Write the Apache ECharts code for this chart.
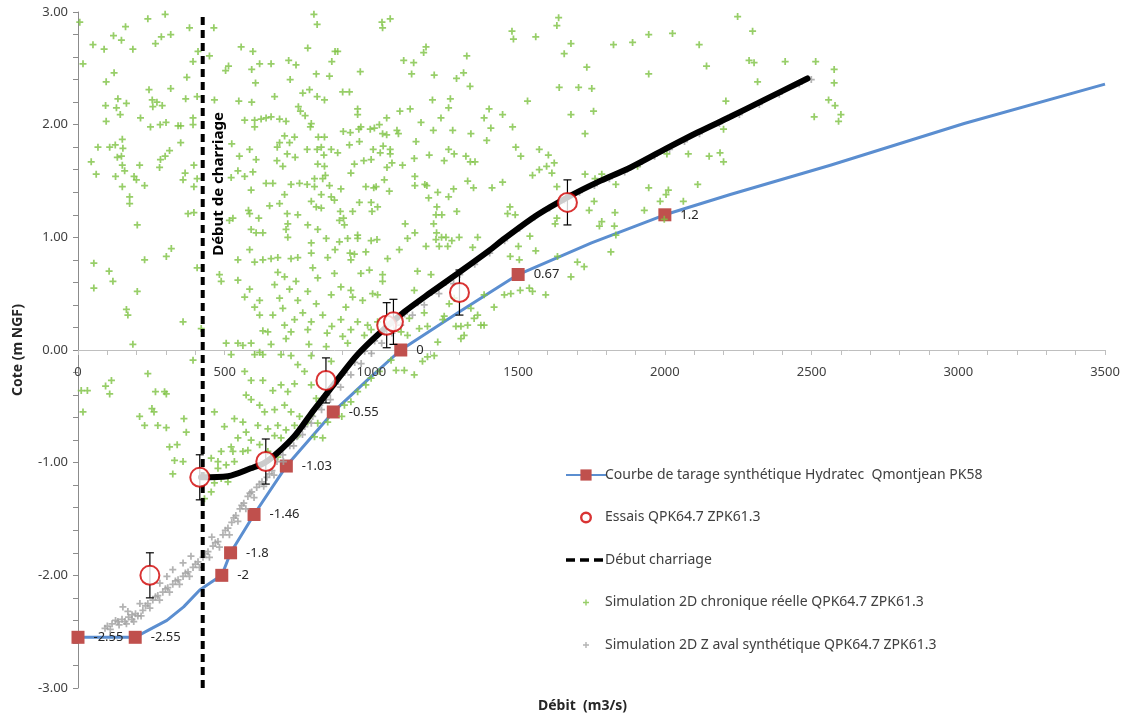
<!DOCTYPE html>
<html><head><meta charset="utf-8">
<script src="https://cdn.jsdelivr.net/npm/echarts@6/dist/echarts.min.js"></script>
<style>html,body{margin:0;padding:0;background:#fff}#c{width:1127px;height:724px}</style>
</head><body><div id="c"></div>
<script>
// ---- Data ----
const xTicks = [0, 500, 1000, 1500, 2000, 2500, 3000, 3500];
const yTicks = [-3, -2, -1, 0, 1, 2, 3];

// Courbe de tarage synthétique (blue line), marked points
const tarageQ = [0, 195, 490, 520, 600, 710, 870, 1100, 1500, 2000];
const tarageZ = [-2.55, -2.55, -2.0, -1.8, -1.46, -1.03, -0.55, 0, 0.67, 1.2];
const tarageLabels = ['-2.55', '-2.55', '-2', '-1.8', '-1.46', '-1.03', '-0.55', '0', '0.67', '1.2'];
// intermediate curve points (no marker)
const tarageCurveQ = [245, 303, 360, 415, 455, 985, 1300, 1750, 2223, 2564, 3020, 3500];
const tarageCurveZ = [-2.48, -2.40, -2.28, -2.13, -2.06, -0.27, 0.34, 0.95, 1.38, 1.64, 2.01, 2.36];

// Essais
const essaisQ = [245, 415, 640, 845, 1052, 1075, 1300, 1668];
const essaisZ = [-2.00, -1.13, -0.99, -0.27, 0.22, 0.25, 0.51, 1.31];
const essaisErr = [0.2, 0.2, 0.2, 0.2, 0.2, 0.2, 0.2, 0.2];

// Début charriage
const charriageQ = 425;
const charriageZ = [-3, 3];

// Thick black curve
const blackQ = [419, 511, 589, 637, 681, 739, 793, 841, 885, 953, 1032, 1113, 1202, 1294, 1400, 1454, 1566, 1679, 1771, 1883, 1999, 2111, 2223, 2339, 2486];
const blackZ = [-1.13, -1.12, -1.05, -1.00, -0.91, -0.76, -0.57, -0.41, -0.26, -0.04, 0.16, 0.34, 0.51, 0.68, 0.88, 0.99, 1.20, 1.37, 1.49, 1.62, 1.78, 1.93, 2.07, 2.22, 2.41];

// Simulation 2D Z aval synthétique (grey crosses)
const zAvalPts = [
[92,-2.47],[116,-2.43],[136,-2.41],[160,-2.41],[184,-2.39],[204,-2.36],[221,-2.31],[238,-2.25],[255,-2.22],[272,-2.18],
[289,-2.15],[306,-2.11],[323,-2.08],[341,-2.04],[358,-2.01],[375,-1.97],[392,-1.93],[409,-1.88],[426,-1.84],[443,-1.79],
[460,-1.74],[477,-1.70],[494,-1.64],[511,-1.58],[524,-1.53],[538,-1.47],[552,-1.41],[565,-1.36],[579,-1.30],[592,-1.26],
[609,-1.22],[627,-1.17],[644,-1.13],[661,-1.07],[678,-0.99],[698,-0.93],[722,-0.85],[746,-0.77],[773,-0.68],[800,-0.59],
[824,-0.49],[851,-0.40],[878,-0.30],[909,-0.20],[943,-0.11],[977,-0.01],[1011,0.08],[1045,0.16],[1079,0.24],[1113,0.32],
[1158,0.42],[1205,0.51],[1253,0.60],[1301,0.67],[1352,0.76],[1403,0.86],[1454,0.97],[1505,1.08],[1556,1.18],[1607,1.26],
[1658,1.33],[1709,1.40],[1760,1.46],[1811,1.52],[1863,1.58],[1914,1.65],[1965,1.72],[2016,1.78],[2067,1.85],[2118,1.92],
[2186,2.01],[2254,2.09],[2322,2.18],[2390,2.27],[2458,2.36],[2499,2.40],
[100,-2.45],[128,-2.40],[150,-2.39],[172,-2.37],[196,-2.34],[230,-2.27],[264,-2.19],[298,-2.12],[332,-2.05],[366,-1.98],
[400,-1.90],[434,-1.81],[468,-1.71],[502,-1.60],[531,-1.49],[558,-1.38],[586,-1.27],[618,-1.19],[652,-1.10],
[110,-2.48],[140,-2.44],[165,-2.43],[190,-2.41],[215,-2.36],[245,-2.29],[278,-2.22],[312,-2.15],[346,-2.08],[380,-2.01],
[414,-1.93],[448,-1.84],[482,-1.75],[516,-1.64],[545,-1.52],[572,-1.41],[600,-1.31],[633,-1.21],[668,-1.11],[700,-0.99],
[735,-0.85],[765,-0.75],[795,-0.65],[830,-0.53],[860,-0.44],[895,-0.33],[930,-0.22],[965,-0.12],[1000,-0.03],[1035,0.06],
[1070,0.15],[1100,0.22],[1140,0.31],[1180,0.40],[1230,0.50],[1280,0.59],
[153,-2.28],[170,-2.32],[184,-2.35],[211,-2.25],[279,-2.07],[303,-2.01],[323,-1.95],[358,-1.89],[385,-1.83],[456,-1.66]
];

// Simulation 2D chronique réelle (green crosses)
const chroniquePts = [
[6,2.91],[17,2.54],[51,2.71],[89,2.67],[121,2.79],[148,2.75],[162,2.87],[187,2.67],[238,2.94],[297,2.98],
[316,2.80],[284,2.78],[264,2.72],[380,2.86],[409,2.65],[392,2.56],[123,2.46],[96,2.38],[371,2.42],[242,2.31],
[316,2.32],[136,2.23],[165,2.19],[94,2.17],[131,2.15],[253,2.22],[269,2.20],[255,2.16],[287,2.17],[144,2.09],
[213,2.06],[96,2.03],[247,1.98],[280,2.00],[300,2.02],[341,1.99],[350,1.99],[392,2.06],[406,2.25],[367,2.23],
[392,2.00],[68,1.80],[108,1.80],[127,1.82],[151,1.87],[153,1.79],[134,1.71],[148,1.72],[45,1.67],[151,1.64],
[210,1.64],[278,1.62],[297,1.72],[281,1.69],[312,1.77],[350,1.84],[62,1.56],[128,1.54],[191,1.54],[199,1.51],
[159,1.59],[227,1.46],[151,1.45],[365,1.57],[358,1.51],[395,1.45],[176,1.36],[176,1.30],[395,1.64],[406,1.52],
[375,1.21],[395,1.22],[202,1.11],[318,0.90],[301,0.83],[227,0.80],[54,0.77],
[463,2.86],[448,2.61],[556,2.69],[596,2.65],[619,2.54],[658,2.54],[592,2.49],[503,2.48],[513,2.52],[605,2.37],
[465,2.22],[548,2.21],[592,2.20],[670,2.25],[723,2.40],[718,2.57],[743,2.53],[783,2.68],[804,2.98],[815,2.89],
[812,2.45],[857,2.43],[865,2.56],[876,2.65],[766,2.28],[789,2.31],[815,2.25],[840,2.22],[751,2.16],[758,2.12],
[774,2.08],[792,1.98],[795,2.01],[819,1.89],[840,1.89],[704,1.90],[738,1.89],[721,1.84],[687,1.84],[568,2.04],
[602,2.04],[624,2.05],[641,2.06],[658,2.07],[687,2.05],[709,2.03],[602,1.98],[524,1.83],[550,1.72],[585,1.78],
[607,1.69],[679,1.80],[713,1.74],[740,1.71],[678,1.68],[698,1.63],[781,1.78],[815,1.78],[838,1.73],[829,1.80],
[863,1.78],[817,1.65],[840,1.63],[843,1.55],[834,1.52],[806,1.52],[857,1.46],[596,1.58],[568,1.54],[522,1.53],
[545,1.59],[641,1.48],[664,1.48],[726,1.47],[755,1.48],[781,1.47],[806,1.45],[829,1.38],[863,1.36],[874,1.33],
[704,1.38],[590,1.42],[653,1.28],[687,1.30],[581,1.24],[585,1.21],[616,1.17],[528,1.17],[516,1.15],[713,1.21],
[749,1.20],[795,1.32],[812,1.27],[829,1.26],[715,1.12],[783,1.11],[817,1.07],[846,0.99],[715,1.00],[709,1.07],
[795,0.95],[590,1.07],[607,1.04],[630,1.04],[585,0.89],[658,0.81],[681,0.82],[726,0.81],[749,0.82],[795,0.86],
[851,0.82],[876,0.89],[545,0.80],[602,0.78],[630,0.80],
[1036,2.91],[1064,2.94],[1038,2.86],[885,2.65],[962,2.47],[902,2.29],[925,2.29],[1186,2.69],[1178,2.64],[1110,2.57],
[1144,2.55],[1137,2.45],[1214,2.44],[1314,2.46],[1290,2.41],[1325,2.61],[1336,2.34],[1208,2.22],[1269,2.23],[1263,2.15],
[1132,2.14],[1097,2.12],[953,2.14],[953,2.09],[1052,2.06],[1237,2.06],[1169,2.02],[904,1.94],[928,1.93],[964,1.98],
[957,1.96],[996,1.96],[1010,1.97],[1027,2.00],[1038,1.92],[1052,1.91],[1087,1.95],[1092,1.92],[1152,1.85],[1211,1.95],
[1277,1.95],[1339,1.92],[1393,1.86],[1384,2.06],[1407,1.97],[1401,2.14],[1447,2.09],[1481,1.98],[925,1.82],[959,1.85],
[885,1.75],[942,1.65],[974,1.68],[999,1.69],[1006,1.78],[1030,1.75],[1040,1.81],[1064,1.78],[1064,1.74],[1070,1.66],
[1106,1.64],[1053,1.62],[930,1.57],[1146,1.70],[1197,1.73],[1248,1.68],[1263,1.78],[1282,1.74],[1322,1.72],[1337,1.67],
[1353,1.67],[1148,1.54],[1148,1.46],[1182,1.47],[1189,1.46],[1044,1.51],[981,1.45],[1008,1.44],[1016,1.45],[1061,1.41],
[896,1.43],[1226,1.40],[1263,1.36],[1280,1.43],[1195,1.35],[1328,1.50],[1348,1.44],[1411,1.44],[1447,1.49],[1492,1.80],
[1509,1.72],[1572,1.78],[1603,1.73],[1572,1.60],[1597,1.63],[1615,1.57],[1623,1.66],[1549,1.55],[1632,1.45],[1728,1.56],
[1762,1.52],[1759,1.32],[1742,1.24],[1680,2.09],[1757,2.12],[1728,1.92],[1734,2.51],[1640,2.33],[1706,2.33],[1751,2.32],
[1532,2.21],[1479,2.83],[1484,2.76],[1560,2.78],[1680,2.72],[1657,2.63],[1638,2.95],[1632,2.88],
[959,1.31],[999,1.31],[1002,1.23],[1021,1.27],[894,1.23],[905,1.17],[891,1.15],[908,1.11],[936,1.23],[1223,1.27],
[1220,1.20],[1240,1.20],[1291,1.23],[1212,1.12],[1115,1.12],[1148,1.04],[1123,0.99],[1222,1.04],[1239,1.00],[1254,1.00],
[1274,0.97],[1299,1.00],[1220,0.98],[1186,0.92],[1362,1.00],[1345,0.91],[1231,0.92],[1260,0.92],[1095,0.89],[1055,0.81],
[999,0.97],[1019,0.98],[953,1.02],[953,0.99],[919,0.99],[891,0.96],[927,0.86],[942,0.85],[981,0.87],[930,0.80],
[1472,1.27],[1464,1.21],[1490,1.20],[1540,1.01],[1501,0.92],[1560,0.88],[1473,0.83],[1504,0.80],[1634,0.83],[1632,1.17],
[1626,1.12],[1702,0.78],
[2248,2.96],[2299,2.83],[1825,2.71],[1890,2.73],[1945,2.80],[2026,2.81],[2117,2.71],[1945,2.45],[2142,2.52],[2287,2.57],
[2304,2.55],[2410,2.56],[2514,2.56],[2577,2.49],[2577,2.37],[2316,2.38],[2208,2.21],[2558,2.22],[2580,2.17],[2600,2.09],
[2509,2.07],[2592,2.03],[2200,1.96],[2007,1.74],[2080,1.74],[2151,1.72],[2188,1.75],[2200,1.67],[1907,1.63],[1785,1.56],
[1833,1.47],[1945,1.44],[2012,1.42],[2004,1.38],[1984,1.32],[2063,1.32],[2112,1.47],[1930,1.24],[1830,1.22],[1785,1.14],
[1777,1.10],[1828,1.10],[1833,1.02],[1998,1.16],[1816,0.87],
[106,0.70],[54,0.55],[119,0.61],[202,0.52],[165,0.36],[170,0.31],[358,0.25],[187,0.05],[420,0.19],[406,0.73],
[11,-0.36],[32,-0.36],[94,-0.32],[114,-0.27],[108,-0.39],[238,-0.21],[264,-0.37],[295,-0.37],[301,-0.39],[17,-0.55],
[210,-0.59],[252,-0.52],[259,-0.55],[227,-0.67],[272,-0.67],[301,-0.69],[361,-0.61],[369,-0.73],[338,-0.84],[312,-0.86],
[329,-0.98],[323,-1.10],[358,-0.99],[392,-0.09],
[482,0.67],[488,0.61],[545,0.62],[585,0.54],[568,0.47],[619,0.44],[602,0.38],[619,0.31],[630,0.17],[647,0.16],
[545,0.06],[562,0.04],[505,0.06],[590,0.06],[619,-0.02],[658,0.05],[687,0.46],[698,0.37],[704,0.22],[726,0.16],
[709,0.10],[738,0.27],[749,0.44],[766,0.33],[783,0.52],[812,0.41],[834,0.31],[863,0.49],[849,0.15],[865,0.21],
[795,0.25],[800,0.73],[704,0.65],[743,0.61],[721,0.54],[817,0.64],[670,0.58],[664,0.31],[681,0.69],[874,0.68],
[787,0.05],[846,0.03],[783,0.18],
[522,-0.04],[602,-0.04],[630,-0.04],[692,-0.04],[726,-0.05],[749,-0.13],[795,-0.05],[863,-0.10],[568,-0.19],[590,-0.27],
[630,-0.27],[664,-0.36],[692,-0.31],[715,-0.37],[738,-0.30],[772,-0.19],[795,-0.31],[812,-0.43],[573,-0.40],[590,-0.44],
[619,-0.49],[636,-0.55],[670,-0.53],[704,-0.49],[726,-0.55],[755,-0.59],[795,-0.58],[817,-0.65],[851,-0.64],[465,-0.55],
[499,-0.68],[533,-0.61],[562,-0.64],[573,-0.73],[613,-0.67],[647,-0.70],[681,-0.67],[738,-0.67],[783,-0.64],[545,-0.78],
[590,-0.80],[522,-0.86],[488,-0.90],[528,-0.90],[454,-0.96],[477,-0.99],[505,-1.02],[533,-0.99],[562,-0.90],[579,-0.89],
[619,-0.84],[465,-1.18],[454,-1.26],[431,-1.32],[488,-1.14],[511,-1.17],[477,-1.05],[437,-1.10],[692,-0.78],[709,-0.71],
[670,-0.76],[647,-0.90],[681,-0.95],[726,-0.80],[749,-0.76],[806,-0.77],[834,-0.78],
[896,0.56],[930,0.53],[964,0.68],[1038,0.67],[1038,0.61],[993,0.71],[1157,0.70],[936,0.47],[970,0.44],[1004,0.50],
[1021,0.49],[913,0.38],[896,0.27],[930,0.18],[987,0.22],[999,0.18],[1021,0.25],[953,0.25],[976,0.13],[902,0.12],
[919,0.06],[1146,0.53],[1163,0.19],[1191,0.21],[1123,0.13],[1101,0.16],[1129,0.28],[1180,0.33],[1248,0.30],[1265,0.41],
[1243,0.27],[1226,0.07],[1214,-0.05],[1191,-0.06],[1174,-0.10],[1112,-0.18],[1084,-0.18],[1067,-0.09],[1027,-0.19],[999,-0.25],
[981,-0.31],[953,-0.37],[930,-0.46],[908,-0.49],[899,-0.59],[1203,0.67],[1282,0.46],[1305,0.21],[1288,0.21],[1328,0.22],
[1350,0.28],[1362,0.31],[1373,0.22],[1418,0.38],[1384,0.49],[1453,0.49],[1475,0.50],[1507,0.53],[1538,0.55],[1549,0.52],
[1594,0.49],[1680,0.65],[1725,0.74],[1384,0.22],[1316,0.13],[1305,0.10],[1339,0.37],[1146,-0.22]
];

// ---- Build ----
const NAME_TARAGE = 'Courbe de tarage synthétique Hydratec  Qmontjean PK58';
const NAME_ESSAIS = 'Essais QPK64.7 ZPK61.3';
const NAME_CHARR = 'Début charriage';
const NAME_CHRON = 'Simulation 2D chronique réelle QPK64.7 ZPK61.3';
const NAME_ZAVAL = 'Simulation 2D Z aval synthétique QPK64.7 ZPK61.3';

const tarageData = [];
tarageQ.forEach((q, i) => tarageData.push({ value: [q, tarageZ[i]], lab: tarageLabels[i] }));
tarageCurveQ.forEach((q, i) => tarageData.push({ value: [q, tarageCurveZ[i]], symbol: 'none', label: { show: false } }));
tarageData.sort((a, b) => a.value[0] - b.value[0]);

const plusPath = 'path://M3,0H5V3H8V5H5V8H3V5H0V3H3Z';
const plusLegend = 'path://M0,0M40,14M19.3,4H20.7V6.3H23V7.7H20.7V10H19.3V7.7H17V6.3H19.3Z';
const dashLegend = 'path://M0,0M40,14M0,5.2H9V8.8H0Z M14,5.2H23V8.8H14Z M28,5.2H37V8.8H28Z';
const ringLegend = 'path://M0,0M40,14M14,7A6,6 0 1,0 26,7A6,6 0 1,0 14,7Z M16.4,7A3.6,3.6 0 1,1 23.6,7A3.6,3.6 0 1,1 16.4,7Z';
const FONT = 'Noto Sans';

const option = {
  animation: false,
  backgroundColor: '#ffffff',
  textStyle: { fontFamily: FONT },
  grid: { left: 78, right: 22, top: 12, bottom: 36, containLabel: false },
  xAxis: {
    type: 'value', min: 0, max: 3500, interval: 500,
    axisLine: { onZero: true, lineStyle: { color: '#bfbfbf', width: 1 } },
    axisTick: { show: true, length: 5, lineStyle: { color: '#bfbfbf' } },
    minorTick: { show: true, splitNumber: 5, length: 5, lineStyle: { color: '#bfbfbf' } },
    splitLine: { show: false },
    axisLabel: { show: false }
  },
  yAxis: {
    type: 'value', min: -3, max: 3, interval: 1,
    name: 'Cote (m NGF)', nameLocation: 'middle', nameGap: 53,
    nameTextStyle: { color: '#262626', fontSize: 14, fontWeight: 'bold', fontFamily: FONT },
    axisLine: { onZero: false, lineStyle: { color: '#8c8c8c', width: 1 } },
    axisTick: { show: true, length: 5, lineStyle: { color: '#8c8c8c' } },
    minorTick: { show: true, splitNumber: 5, length: 5, lineStyle: { color: '#8c8c8c' } },
    splitLine: { show: false },
    axisLabel: { color: '#404040', fontSize: 13, margin: 10, fontFamily: FONT,
      formatter: v => (yTicks.indexOf(v) >= 0 ? v.toFixed(2) : '') }
  },
  legend: {
    orient: 'vertical', left: 560, top: 463, itemGap: 28.5, itemWidth: 40, itemHeight: 14,
    textStyle: { color: '#404040', fontSize: 14, fontFamily: FONT, padding: [0, 0, 0, -6] },
    data: [
      { name: NAME_TARAGE },
      { name: NAME_ESSAIS, icon: ringLegend, itemStyle: { color: '#d00000', borderWidth: 0 } },
      { name: NAME_CHARR, icon: dashLegend, itemStyle: { color: '#000000' } },
      { name: NAME_CHRON, icon: plusLegend },
      { name: NAME_ZAVAL, icon: plusLegend }
    ]
  },
  graphic: [
    { type: 'text', left: 538, top: 699,
      style: { text: 'Débit  (m3/s)', font: 'bold 14px "Noto Sans"', fill: '#262626' }, z: 100 },
    { type: 'text', x: 219, y: 184, rotation: Math.PI / 2,
      style: { text: 'Début de charriage', font: 'bold 15px "Noto Sans"', fill: '#000', align: 'center', verticalAlign: 'middle' }, z: 100 }
  ],
  series: [
    {
      name: NAME_TARAGE, type: 'line', z: 2,
      data: tarageData,
      symbol: 'rect', symbolSize: 13, showAllSymbol: true,
      itemStyle: { color: '#c0504d' },
      lineStyle: { color: '#5b8ed0', width: 3, join: 'round' },
      label: { show: true, position: 'right', distance: 9, color: '#262626', fontSize: 13, fontFamily: FONT,
        formatter: p => p.data.lab || '' },
      emphasis: { disabled: true }
    },
    {
      name: NAME_CHRON, type: 'scatter', z: 3,
      data: chroniquePts, symbol: plusPath, symbolSize: 7,
      itemStyle: { color: '#7dc242' },
      emphasis: { disabled: true }
    },
    {
      name: NAME_ZAVAL, type: 'scatter', z: 4,
      data: zAvalPts, symbol: plusPath, symbolSize: 7,
      itemStyle: { color: '#a0a0a0' },
      emphasis: { disabled: true }
    },
    {
      name: 'courbe noire', type: 'line', z: 5,
      data: blackQ.map((q, i) => [q, blackZ[i]]),
      symbol: 'none', smooth: 0.3,
      lineStyle: { color: '#000000', width: 6, cap: 'round' },
      emphasis: { disabled: true }
    },
    {
      name: NAME_CHARR, type: 'line', z: 6,
      data: charriageZ.map(z => [charriageQ, z]),
      symbol: 'none',
      lineStyle: { color: '#000000', width: 4, type: [8, 5] },
      itemStyle: { color: '#000000' },
      emphasis: { disabled: true }
    },
    {
      name: 'barres', type: 'custom', z: 7,
      data: essaisQ.map((q, i) => [q, essaisZ[i] - essaisErr[i], essaisZ[i] + essaisErr[i]]),
      renderItem: (params, api) => {
        const lo = api.coord([api.value(0), api.value(1)]);
        const hi = api.coord([api.value(0), api.value(2)]);
        const w = 4;
        const st = { stroke: '#000', lineWidth: 1.2 };
        return { type: 'group', children: [
          { type: 'line', shape: { x1: lo[0], y1: lo[1], x2: hi[0], y2: hi[1] }, style: st },
          { type: 'line', shape: { x1: lo[0] - w, y1: lo[1], x2: lo[0] + w, y2: lo[1] }, style: st },
          { type: 'line', shape: { x1: hi[0] - w, y1: hi[1], x2: hi[0] + w, y2: hi[1] }, style: st }
        ] };
      },
      encode: { x: 0, y: [1, 2] },
      emphasis: { disabled: true }
    },
    {
      name: NAME_ESSAIS, type: 'scatter', z: 8,
      data: essaisQ.map((q, i) => [q, essaisZ[i]]),
      symbol: 'emptyCircle', symbolSize: 19,
      itemStyle: { color: '#d00000', borderColor: '#d00000', borderWidth: 2.5 },
      emphasis: { disabled: true }
    },
    {
      name: 'xlabels', type: 'custom', z: 9, silent: true,
      data: xTicks.map(v => [v, 0]),
      renderItem: (params, api) => {
        const c = api.coord([api.value(0), api.value(1)]);
        return { type: 'text', x: c[0], y: c[1] + 22,
          style: { text: String(api.value(0)), fill: '#404040', font: '13px "Noto Sans"', align: 'center', verticalAlign: 'middle' } };
      },
      encode: { x: 0, y: 1 }
    }
  ]
};

const chart = echarts.init(document.getElementById('c'), null, { renderer: 'canvas' });
chart.setOption(option);
</script>
</body></html>
